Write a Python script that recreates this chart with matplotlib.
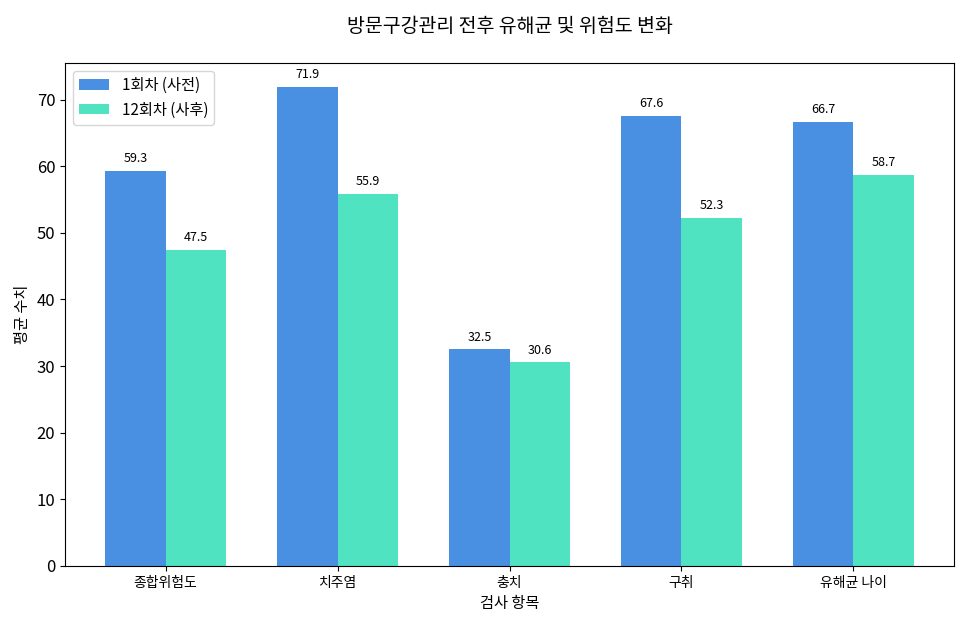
import matplotlib
matplotlib.use("Agg")
import matplotlib.pyplot as plt
import numpy as np

plt.rcParams['font.family'] = ['Noto Sans CJK KR', 'DejaVu Sans']

categories = ['종합위험도', '치주염', '충치', '구취', '유해균 나이']
before = [59.3, 71.9, 32.5, 67.6, 66.7]
after = [47.5, 55.9, 30.6, 52.3, 58.7]
labels = ['1회차 (사전)', '12회차 (사후)']

fig, ax = plt.subplots(figsize=(9.6, 6.27), dpi=100)
x = np.arange(len(categories))
w = 0.35
b1 = ax.bar(x - w/2, before, w, color='#4A90E2', label=labels[0])
b2 = ax.bar(x + w/2, after, w, color='#50E3C2', label=labels[1])
for bars in (b1, b2):
    for r in bars:
        ax.annotate(f'{r.get_height():.1f}', (r.get_x() + r.get_width()/2, r.get_height()),
                    xytext=(0, 4), textcoords='offset points', ha='center', va='bottom', fontsize=9)
ax.set_xticks(x)
ax.set_xticklabels(categories, fontsize=10)
ax.tick_params(axis='y', labelsize=12)
ax.set_xlabel('검사 항목', fontsize=11)
ax.set_ylabel('평균 수치', fontsize=11)
ax.set_title('방문구강관리 전후 유해균 및 위험도 변화', fontsize=14, pad=22)
ax.legend(loc='upper left', fontsize=11)
fig.subplots_adjust(left=0.0677, right=0.9938, top=0.8995, bottom=0.0973)
fig.savefig('out.png')
